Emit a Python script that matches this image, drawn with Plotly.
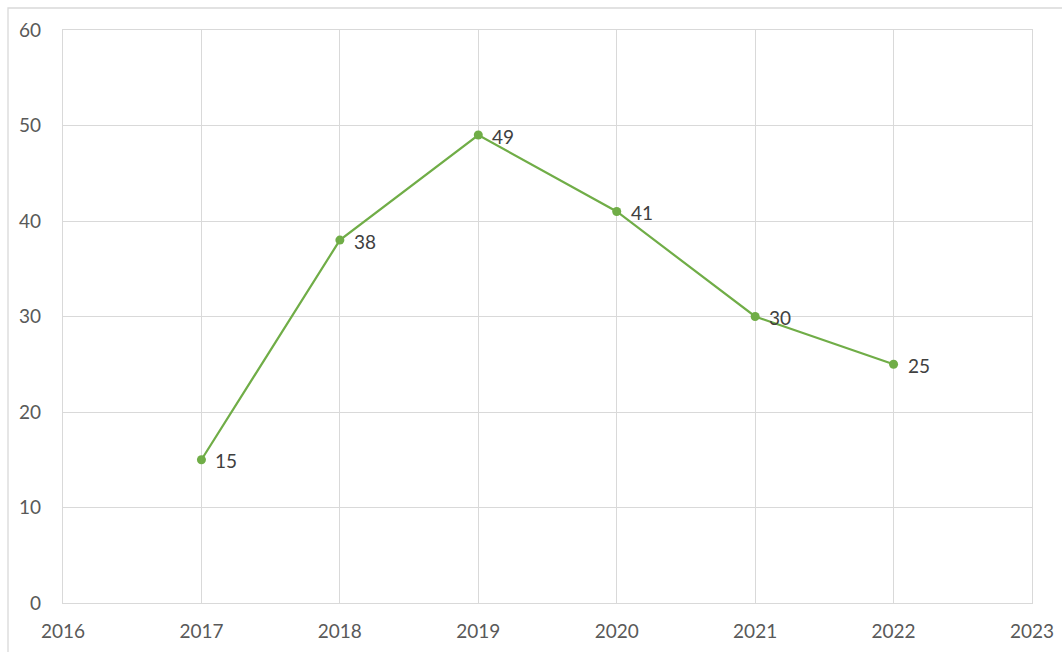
import plotly.graph_objects as go

years = [2017, 2018, 2019, 2020, 2021, 2022]
values = [15, 38, 49, 41, 30, 25]
x_ticks = [2016, 2017, 2018, 2019, 2020, 2021, 2022, 2023]
y_ticks = [0, 10, 20, 30, 40, 50, 60]

W, H = 1062, 652
ml, mr, mt, mb = 63, 30, 30, 49
pw, ph = W - ml - mr, H - mt - mb

green = "#70AD47"
grid = "#D9D9D9"
font_family = "Lato, 'Open Sans', sans-serif"

fig = go.Figure()
fig.add_trace(go.Scatter(
    x=years, y=values,
    mode="lines+markers",
    line=dict(color=green, width=2.2),
    marker=dict(color=green, size=9),
    cliponaxis=False,
    hoverinfo="x+y",
))

# value labels placed to the right of each point
for xv, yv in zip(years, values):
    fig.add_annotation(
        x=xv, y=yv, text=str(yv), showarrow=False,
        xanchor="left", yanchor="middle", xshift=12, yshift=-1,
        font=dict(family=font_family, size=19, color="#404040"),
    )

# outer chart-area frame (extends past the right and bottom edges)
fig.add_shape(
    type="rect", xref="paper", yref="paper",
    x0=(8 - ml) / pw, x1=(W + 10 - ml) / pw,
    y0=-(H + 10 - (H - mb)) / ph, y1=1 + (mt - 8) / ph,
    line=dict(color=grid, width=1.3), fillcolor="rgba(0,0,0,0)", layer="below",
)

fig.update_layout(
    width=W, height=H,
    margin=dict(l=ml, r=mr, t=mt, b=mb, autoexpand=False),
    paper_bgcolor="white", plot_bgcolor="white",
    showlegend=False,
    font=dict(family=font_family, size=19, color="#595959"),
    xaxis=dict(
        range=[2016, 2023], tickvals=x_ticks, ticktext=[str(t) for t in x_ticks],
        showgrid=True, gridcolor=grid, gridwidth=1.3,
        zeroline=False, showline=True, linecolor=grid, linewidth=1.3, mirror=True,
        ticks="", ticklabelstandoff=11, automargin=False,
        tickfont=dict(size=19, color="#595959"),
    ),
    yaxis=dict(
        range=[0, 60], tickvals=y_ticks,
        showgrid=True, gridcolor=grid, gridwidth=1.3,
        zeroline=False, showline=True, linecolor=grid, linewidth=1.3, mirror=True,
        ticks="", ticklabelstandoff=17, automargin=False,
        tickfont=dict(size=19, color="#595959"),
    ),
)

fig.write_html("out.html")
